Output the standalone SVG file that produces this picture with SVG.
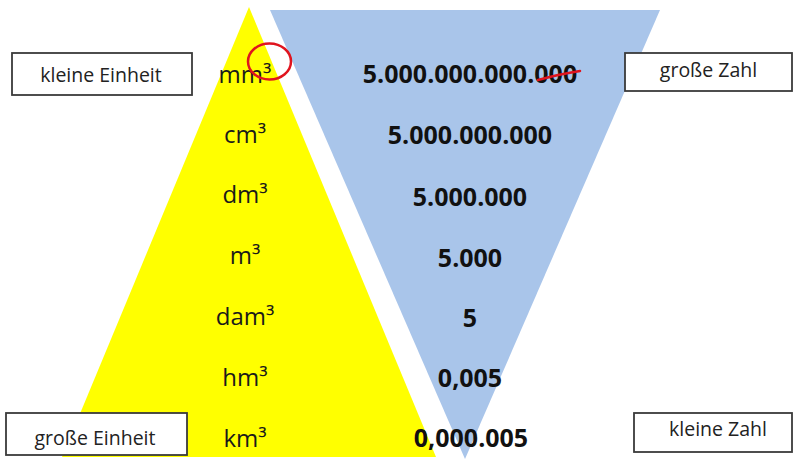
<svg xmlns="http://www.w3.org/2000/svg" width="793" height="459" viewBox="0 0 793 459">
<style>
.unit{font-family:"Open Sans","Liberation Sans",sans-serif;font-size:24px;fill:#1a1a1a;text-anchor:middle}
.num{font-family:"Open Sans","Liberation Sans",sans-serif;font-size:25px;font-weight:700;fill:#111;text-anchor:middle}
.box rect{fill:#fff;stroke:#3a3a3a;stroke-width:1.8}
.box text{font-family:"Open Sans","Liberation Sans",sans-serif;font-size:19.5px;fill:#222;text-anchor:middle}
.mark{fill:none;stroke:#e0141e;stroke-width:2.5;stroke-linecap:round}
</style>
<rect width="793" height="459" fill="#fff"/>
<g id="yellow-triangle"><polygon points="249,7 62,457 436,457" fill="#ffff00"/></g>
<g id="blue-triangle"><polygon points="270,10 660,10 465,459" fill="#a9c5ea"/></g>
<g id="units">
<text class="unit" x="245" y="83">mm³</text>
<text class="unit" x="245" y="143">cm³</text>
<text class="unit" x="245" y="203">dm³</text>
<text class="unit" x="245" y="264">m³</text>
<text class="unit" x="245" y="325">dam³</text>
<text class="unit" x="245" y="386">hm³</text>
<text class="unit" x="245" y="447">km³</text>
</g>
<g id="numbers">
<text class="num" x="470" y="83">5.000.000.000.000</text>
<text class="num" x="470" y="144">5.000.000.000</text>
<text class="num" x="470" y="206">5.000.000</text>
<text class="num" x="470" y="267">5.000</text>
<text class="num" x="470" y="327">5</text>
<text class="num" x="470" y="387">0,005</text>
<text class="num" x="471" y="447">0,000.005</text>
</g>
<g id="annotations">
<ellipse class="mark" cx="269.5" cy="61.5" rx="21.5" ry="18"/>
<path class="mark" d="M538,80 Q560,74 580,71"/>
</g>
<g id="kleine-einheit" class="box"><rect x="12" y="53" width="180" height="42"/><text x="101" y="82">kleine Einheit</text></g>
<g id="grosse-zahl" class="box"><rect x="625" y="53" width="167" height="38"/><text x="708.5" y="77">große Zahl</text></g>
<g id="grosse-einheit" class="box"><rect x="6" y="413" width="181" height="42"/><text x="95" y="445">große Einheit</text></g>
<g id="kleine-zahl" class="box"><rect x="634" y="413" width="158" height="39"/><text x="718" y="436">kleine Zahl</text></g>
</svg>
